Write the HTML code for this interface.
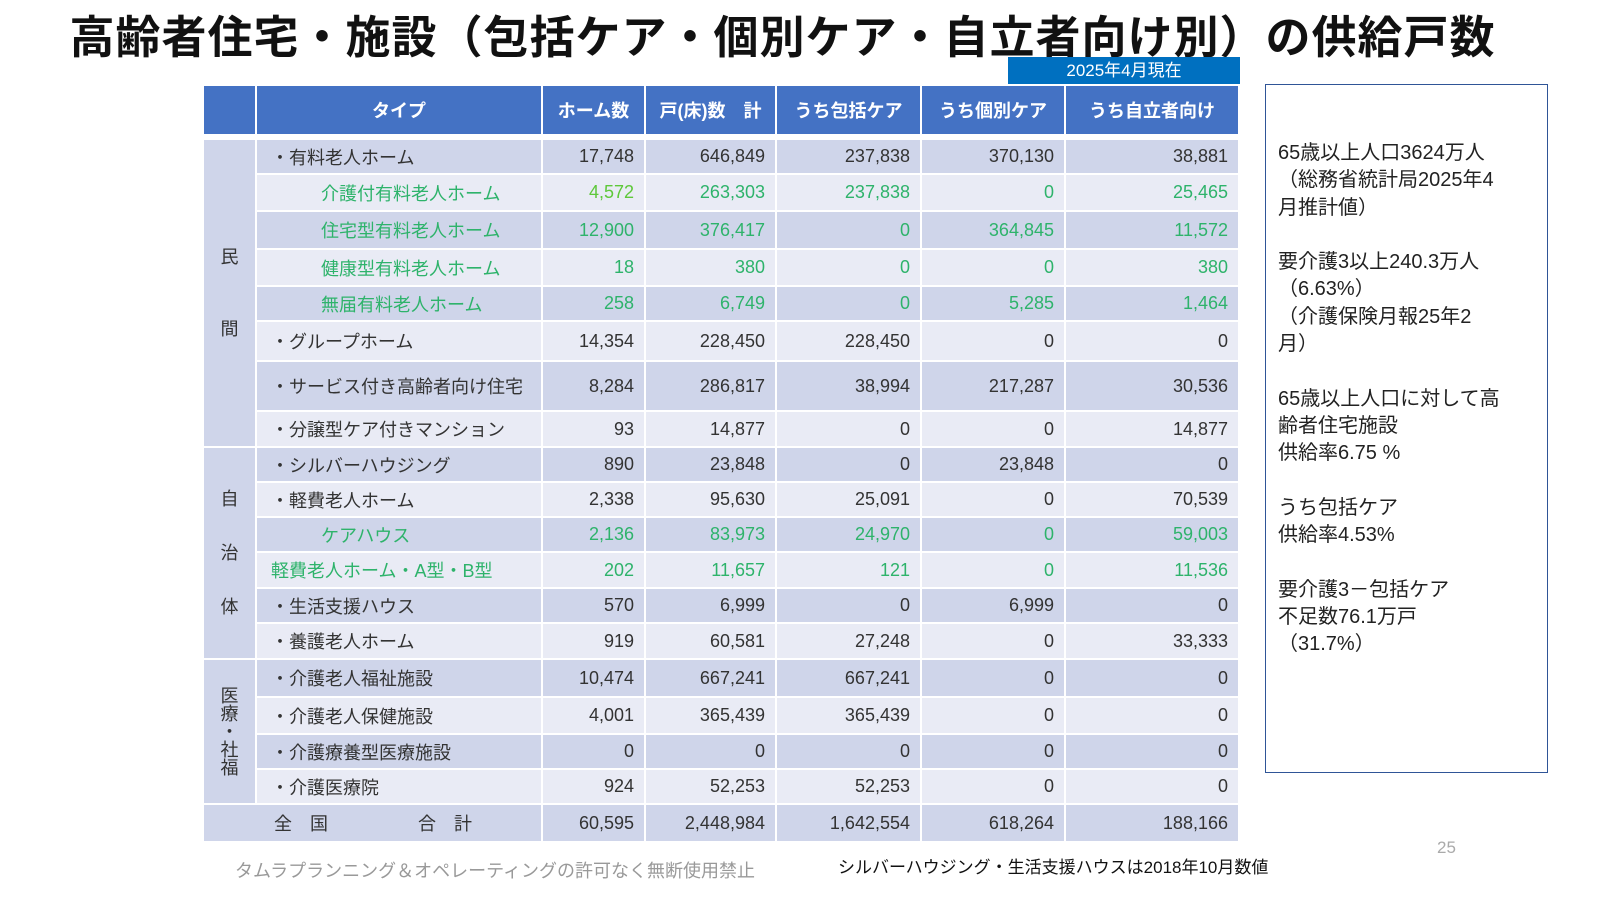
<!DOCTYPE html>
<html><head><meta charset="utf-8"><style>
body{margin:0;width:1600px;height:900px;background:#fff;position:relative;overflow:hidden;font-family:"Liberation Sans","Noto Sans CJK JP",sans-serif;}
.title{position:absolute;left:0;width:1565px;top:1px;text-align:center;font-size:45px;font-weight:bold;color:#111;letter-spacing:1px;}
.date{position:absolute;left:1008px;top:57px;width:232px;height:27px;background:#0070C0;color:#fff;font-size:17px;text-align:center;line-height:27px;}
table{position:absolute;left:202px;top:84px;border-collapse:collapse;table-layout:fixed;font-size:18px;color:#333;}
td{border:2px solid #fff;padding:0;white-space:nowrap;}
th{border:2px solid #fff;background:#4472C4;color:#fff;font-size:18px;font-weight:bold;height:46px;}
tr.gap td{height:2px;background:#fff;border:0;}
.d td{background:#CFD5EA}.l td{background:#E9EBF5}
td.g{background:#CFD5EA;text-align:center;color:#333;}
td.n{text-align:right;padding-right:10px;}
td.t{padding-left:14px;}
td.ti{padding-left:64px;}
.gr td.n,.gr td.t,.gr td.ti{color:#2EB36B;}
.box{position:absolute;left:1265px;top:84px;width:283px;height:689px;border:1.5px solid #2F5597;box-sizing:border-box;}
.box div{position:absolute;left:12px;top:55px;font-size:20px;line-height:27.3px;color:#222;}
.f1{position:absolute;left:235px;top:857px;font-size:18px;color:#999;}
.f2{position:absolute;left:838px;top:853px;font-size:17px;color:#111;}
.pn{position:absolute;left:1437px;top:838px;font-size:17px;color:#aaa;}
</style></head><body>
<div class="title">高齢者住宅・施設（包括ケア・個別ケア・自立者向け別）の供給戸数</div>
<div class="date">2025年4月現在</div>
<table>
<colgroup><col style="width:53px"><col style="width:286px"><col style="width:103px"><col style="width:131px"><col style="width:145px"><col style="width:144px"><col style="width:174px"></colgroup>
<tr><th></th><th>タイプ</th><th>ホーム数</th><th>戸(床)数　計</th><th>うち包括ケア</th><th>うち個別ケア</th><th>うち自立者向け</th></tr>
<tr class="gap"><td colspan="7"></td></tr>
<tr class="d" style="height:35px"><td class="g" rowspan="8" style="line-height:36px">民<br><br>間</td><td class="t">・有料老人ホーム</td><td class="n">17,748</td><td class="n">646,849</td><td class="n">237,838</td><td class="n">370,130</td><td class="n">38,881</td></tr>
<tr class="l gr" style="height:37px"><td class="ti">介護付有料老人ホーム</td><td class="n" style="color:#5EC83A">4,572</td><td class="n">263,303</td><td class="n">237,838</td><td class="n">0</td><td class="n">25,465</td></tr>
<tr class="d gr" style="height:38px"><td class="ti">住宅型有料老人ホーム</td><td class="n">12,900</td><td class="n">376,417</td><td class="n">0</td><td class="n">364,845</td><td class="n">11,572</td></tr>
<tr class="l gr" style="height:37px"><td class="ti">健康型有料老人ホーム</td><td class="n">18</td><td class="n">380</td><td class="n">0</td><td class="n">0</td><td class="n">380</td></tr>
<tr class="d gr" style="height:35px"><td class="ti">無届有料老人ホーム</td><td class="n">258</td><td class="n">6,749</td><td class="n">0</td><td class="n">5,285</td><td class="n">1,464</td></tr>
<tr class="l" style="height:40px"><td class="t">・グループホーム</td><td class="n">14,354</td><td class="n">228,450</td><td class="n">228,450</td><td class="n">0</td><td class="n">0</td></tr>
<tr class="d" style="height:50px"><td class="t">・サービス付き高齢者向け住宅</td><td class="n">8,284</td><td class="n">286,817</td><td class="n">38,994</td><td class="n">217,287</td><td class="n">30,536</td></tr>
<tr class="l" style="height:36px"><td class="t">・分譲型ケア付きマンション</td><td class="n">93</td><td class="n">14,877</td><td class="n">0</td><td class="n">0</td><td class="n">14,877</td></tr>
<tr class="d" style="height:35px"><td class="g" rowspan="6" style="line-height:27px">自<br><br>治<br><br>体</td><td class="t">・シルバーハウジング</td><td class="n">890</td><td class="n">23,848</td><td class="n">0</td><td class="n">23,848</td><td class="n">0</td></tr>
<tr class="l" style="height:35px"><td class="t">・軽費老人ホーム</td><td class="n">2,338</td><td class="n">95,630</td><td class="n">25,091</td><td class="n">0</td><td class="n">70,539</td></tr>
<tr class="d gr" style="height:35px"><td class="ti">ケアハウス</td><td class="n">2,136</td><td class="n">83,973</td><td class="n">24,970</td><td class="n">0</td><td class="n">59,003</td></tr>
<tr class="l gr" style="height:36px"><td class="t">軽費老人ホーム・A型・B型</td><td class="n">202</td><td class="n">11,657</td><td class="n">121</td><td class="n">0</td><td class="n">11,536</td></tr>
<tr class="d" style="height:35px"><td class="t">・生活支援ハウス</td><td class="n">570</td><td class="n">6,999</td><td class="n">0</td><td class="n">6,999</td><td class="n">0</td></tr>
<tr class="l" style="height:36px"><td class="t">・養護老人ホーム</td><td class="n">919</td><td class="n">60,581</td><td class="n">27,248</td><td class="n">0</td><td class="n">33,333</td></tr>
<tr class="d" style="height:38px"><td class="g" rowspan="4" style="line-height:18px">医<br>療<br>・<br>社<br>福</td><td class="t">・介護老人福祉施設</td><td class="n">10,474</td><td class="n">667,241</td><td class="n">667,241</td><td class="n">0</td><td class="n">0</td></tr>
<tr class="l" style="height:37px"><td class="t">・介護老人保健施設</td><td class="n">4,001</td><td class="n">365,439</td><td class="n">365,439</td><td class="n">0</td><td class="n">0</td></tr>
<tr class="d" style="height:35px"><td class="t">・介護療養型医療施設</td><td class="n">0</td><td class="n">0</td><td class="n">0</td><td class="n">0</td><td class="n">0</td></tr>
<tr class="l" style="height:35px"><td class="t">・介護医療院</td><td class="n">924</td><td class="n">52,253</td><td class="n">52,253</td><td class="n">0</td><td class="n">0</td></tr>
<tr class="d" style="height:38px"><td colspan="2" style="padding-left:70px">全　国　　　　　合　計</td><td class="n">60,595</td><td class="n">2,448,984</td><td class="n">1,642,554</td><td class="n">618,264</td><td class="n">188,166</td></tr>
</table>
<div class="box"><div>65歳以上人口3624万人<br>（総務省統計局2025年4<br>月推計値）<br><br>要介護3以上240.3万人<br>（6.63%）<br>（介護保険月報25年2<br>月）<br><br>65歳以上人口に対して高<br>齢者住宅施設<br>供給率6.75 %<br><br>うち包括ケア<br>供給率4.53%<br><br>要介護3－包括ケア<br>不足数76.1万戸<br>（31.7%）</div></div>
<div class="f1">タムラプランニング＆オペレーティングの許可なく無断使用禁止</div>
<div class="f2">シルバーハウジング・生活支援ハウスは2018年10月数値</div>
<div class="pn">25</div>
</body></html>
